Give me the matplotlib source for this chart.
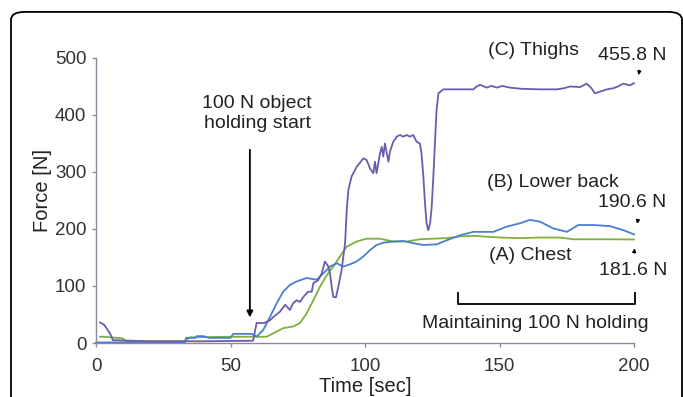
import numpy as np
import matplotlib.pyplot as plt
from matplotlib.patches import FancyBboxPatch

plt.rcParams['font.family'] = ['Liberation Sans', 'DejaVu Sans']

# Force curves, (time s, force N)
thighs = [(1.5, 36), (3, 32), (5.2, 17), (6.3, 5), (20, 3), (40, 3), (58.4, 4),
          (59.7, 35), (62.5, 35), (64.7, 40), (66, 46), (68.4, 55), (70.3, 67),
          (72.1, 58), (73.3, 70), (74.6, 75), (75.8, 72), (77.1, 81), (78.9, 90),
          (80.2, 90), (80.8, 105), (82.6, 110), (83.9, 122), (85.1, 143),
          (86.4, 134), (87.0, 122), (87.6, 99), (88.2, 81), (89.2, 80),
          (90.1, 99), (91.3, 128), (92.6, 175), (93.2, 233), (93.8, 268),
          (95.0, 292), (96.9, 309), (99.4, 324), (100.6, 321), (101.9, 306),
          (103.1, 298), (103.7, 318), (104.3, 298), (105.6, 333), (106.2, 344),
          (106.8, 327), (107.4, 350), (108.1, 333), (108.7, 318), (109.3, 336),
          (110.5, 353), (111.8, 362), (113.0, 365), (114.2, 362), (115.5, 365),
          (116.7, 362), (117.9, 365), (119.2, 353), (120.4, 350), (121.0, 333),
          (121.7, 292), (122.3, 245), (122.9, 210), (123.5, 198), (124.2, 210),
          (124.8, 239), (125.4, 292), (126.0, 350), (126.6, 409), (127.3, 438),
          (129.1, 445), (135, 445), (140.3, 445), (141.5, 450), (142.8, 453),
          (145.2, 448), (147, 451), (149, 448), (151, 451), (153.9, 448),
          (158, 446), (165, 445), (171.3, 445), (174, 447), (176.2, 450),
          (180, 449), (182.4, 455), (184, 448), (185.5, 438), (188.6, 443),
          (190, 445), (192.3, 447), (194, 450), (196, 455), (198.5, 452),
          (200, 455.8)]

lower_back = [(0, 1), (10, 1), (33, 1), (33.5, 9), (37, 9), (37.4, 12), (40, 12),
              (42, 9), (50, 9), (51, 16), (58, 16), (59.7, 11), (62.2, 23),
              (64.7, 46), (67.2, 70), (69.6, 90), (72.1, 102), (74.6, 108),
              (78.3, 114), (82, 111), (84.5, 122), (87, 134), (89.5, 140),
              (91.9, 134), (94.4, 138), (96.9, 143), (99.4, 152), (101.9, 163),
              (104.3, 172), (106.8, 176), (110.5, 178), (114.2, 179), (118, 175),
              (121.7, 172), (126.6, 173), (130.3, 180), (135.3, 189), (140.3, 195),
              (147.7, 195), (152.6, 204), (157.6, 210), (161.3, 216), (165, 213),
              (170, 201), (175, 195), (179.3, 207), (184.9, 207), (191.1, 205),
              (196, 198), (200, 190.6)]

chest = [(1.5, 11), (2.7, 11), (10, 8), (11, 3), (20, 3), (33, 3), (35, 10),
         (50, 11), (57, 11), (63.4, 11), (65.9, 17), (69.6, 26), (73.3, 29),
         (75.8, 35), (78.3, 52), (80.8, 75), (83.3, 99), (85.8, 119), (88.2, 134),
         (90.7, 152), (93.2, 169), (96.9, 178), (100.6, 183), (105.6, 183),
         (110.5, 178), (115.5, 178), (120.4, 182), (130.3, 184), (135.3, 187),
         (140.3, 188), (150.2, 185), (157.6, 184), (165, 185), (172.5, 185),
         (177.4, 182), (189.8, 182), (200, 181.6)]

x_ticks = [0, 50, 100, 150, 200]
y_ticks = [0, 100, 200, 300, 400, 500]

fig = plt.figure(figsize=(6.83, 3.97), dpi=100)
ax = fig.add_axes([96 / 683, 54 / 397, 538 / 683, 285 / 397])

# rounded frame around the panel (bottom runs off the image)
frame = FancyBboxPatch((11 / 683, -0.1), 671 / 683, 1.07, transform=fig.transFigure,
                       boxstyle="round,pad=0,rounding_size=0.02", fill=False,
                       edgecolor='black', linewidth=1.3, clip_on=False)
fig.patches.append(frame)

for data, color in [(chest, '#7fb03c'), (lower_back, '#4a7fcf'), (thighs, '#6a5cb0')]:
    t, f = zip(*data)
    ax.plot(t, f, color=color, lw=1.3, clip_on=False)

ax.set_xlim(0, 200)
ax.set_ylim(0, 500)
ax.set_xticks(x_ticks)
ax.set_yticks(y_ticks)
for s in ['top', 'right']:
    ax.spines[s].set_visible(False)
for s in ['left', 'bottom']:
    ax.spines[s].set_color('#8a8a9a')
    ax.spines[s].set_linewidth(1.0)
ax.tick_params(direction='out', length=3, width=1, color='#8a8a9a',
               labelsize=13.5, labelcolor='#333333')
ax.tick_params(axis='x', pad=8)
ax.tick_params(axis='y', pad=4)

fig.text(42 / 683, 1 - 190 / 397, 'Force [N]', rotation=90, ha='center', va='center',
         fontsize=14.5, color='#222222')
fig.text(365 / 683, 1 - 386 / 397, 'Time [sec]', ha='center', va='center',
         fontsize=14.5, color='#222222')

txt = dict(ha='center', va='center', fontsize=14, color='#222222')
ax.annotate('', xy=(57.2, 40), xytext=(57.2, 344),
            arrowprops=dict(arrowstyle='-|>', color='black', lw=1.3, mutation_scale=9))
ax.text(59.9, 403, '100 N object\nholding start', linespacing=1.2, **txt)
ax.text(162.5, 514, '(C) Thighs', **txt)
ax.text(170, 282, '(B) Lower back', **txt)
ax.text(161.3, 154, '(A) Chest', **txt)
ax.text(199.3, 505, '455.8 N', **txt)
ax.text(199.3, 246, '190.6 N', **txt)
ax.text(199.6, 128, '181.6 N', **txt)
ax.text(163.2, 35, 'Maintaining 100 N holding', **txt)

small = dict(arrowstyle='-|>', color='black', lw=1.0, mutation_scale=5)
ax.annotate('', xy=(201.5, 465), xytext=(202.2, 483), arrowprops=small, annotation_clip=False)
ax.annotate('', xy=(201, 204), xytext=(201.6, 220), arrowprops=small, annotation_clip=False)
ax.annotate('', xy=(200.4, 171), xytext=(200, 157), arrowprops=small, annotation_clip=False)

# bracket for the holding period
ax.plot([134.5, 134.5, 200.5, 200.5], [88, 68, 68, 88], color='black', lw=1.3, clip_on=False)

fig.savefig('out.png', dpi=100)
